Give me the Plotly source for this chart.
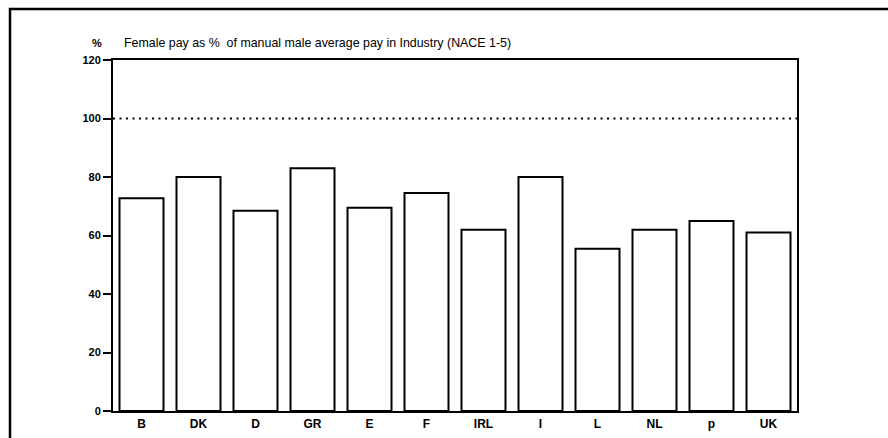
import plotly.graph_objects as go

countries = ["B", "DK", "D", "GR", "E", "F", "IRL", "I", "L", "NL", "p", "UK"]
female_pay_pct = [72.7, 80, 68.5, 83, 69.5, 74.5, 62, 80, 55.5, 62, 65, 61]
y_ticks = [0, 20, 40, 60, 80, 100, 120]
reference_level = 100
title_text = "Female pay as %  of manual male average pay in Industry (NACE 1-5)"
unit_text = "%"

W, H = 888, 438
L, R, T, B = 113, 91, 60, 27
pw, ph = W - L - R, H - T - B

fig = go.Figure()
fig.add_trace(go.Bar(
    x=countries, y=female_pay_pct,
    marker=dict(color="white", line=dict(color="black", width=2)),
    showlegend=False, hoverinfo="x+y",
))

fig.add_shape(type="line", xref="paper", yref="y", x0=0, x1=1,
              y0=reference_level, y1=reference_level,
              line=dict(color="black", width=2.2, dash="2px,4.5px"))

def px_x(p):
    return (p - L) / pw

def px_y(p):
    return (H - B - p) / ph

# outer frame of the scanned page
fig.add_shape(type="rect", xref="paper", yref="paper",
              x0=px_x(10), x1=px_x(893), y0=px_y(442), y1=px_y(9),
              line=dict(color="black", width=2.5), fillcolor="rgba(0,0,0,0)",
              layer="above")

fig.add_annotation(xref="paper", yref="paper", x=px_x(97), y=px_y(43),
                   text=unit_text, showarrow=False, xanchor="center", yanchor="middle",
                   font=dict(family="Liberation Sans", size=11, color="black", weight="bold"))
fig.add_annotation(xref="paper", yref="paper", x=px_x(122), y=px_y(43),
                   text=title_text, showarrow=False, xanchor="left", yanchor="middle",
                   font=dict(family="Liberation Sans", size=12.4, color="black"))

fig.update_layout(
    width=W, height=H,
    margin=dict(l=L, r=R, t=T, b=B, pad=0, autoexpand=False),
    paper_bgcolor="white", plot_bgcolor="white",
    bargap=0.228,
    font=dict(family="Liberation Sans", color="black"),
)
fig.update_xaxes(
    showline=True, linecolor="black", linewidth=2, mirror=True,
    showgrid=False, ticks="", tickfont=dict(size=12, weight="bold"),
    ticklabelstandoff=1, automargin=False,
)
fig.update_yaxes(
    range=[0, 120], tickvals=y_ticks, showline=True, linecolor="black",
    linewidth=2, mirror=True, showgrid=False, zeroline=False,
    ticks="outside", ticklen=8, tickwidth=1.5, tickcolor="black",
    tickfont=dict(size=11, weight="bold"), automargin=False,
)

fig.write_html("out.html", config={"displayModeBar": False},
               post_script="document.body.style.margin='0px';document.body.style.overflow='hidden';")
